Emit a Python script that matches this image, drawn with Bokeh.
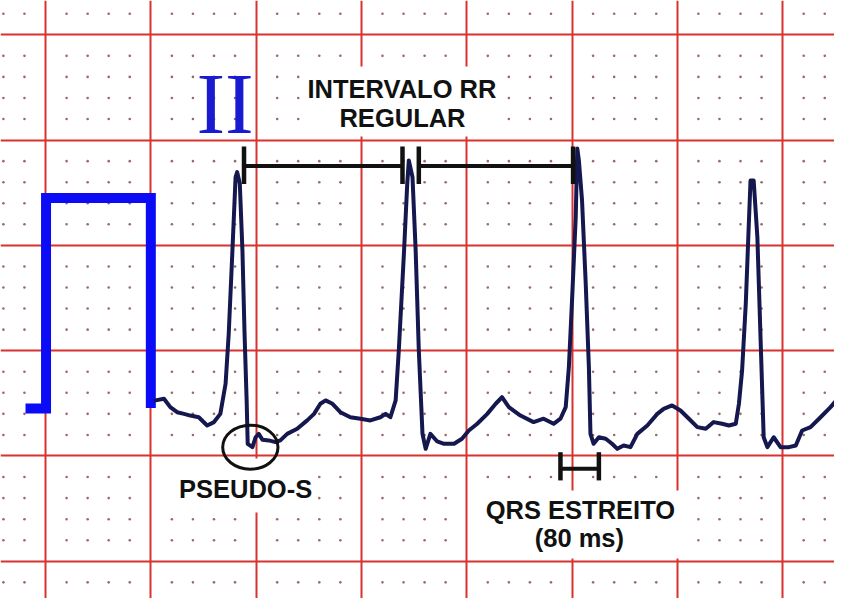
from bokeh.plotting import figure
from bokeh.models import Range1d, FixedTicker
from bokeh.embed import file_html
from bokeh.resources import INLINE
from bokeh.core.properties import value
import numpy as np

# ---- data (time in ms, voltage in mV) ----
cal_t = [-38, 1, 1, 200, 200]
cal_v = [0.225, 0.225, 1.225, 1.225, 0.228]

ecg_t = [209, 225, 237, 250, 263, 275, 291, 307, 320, 332, 342, 348, 355, 361, 364, 369, 374, 378, 382, 384,
         393, 399, 405, 412, 424, 437, 446, 459, 478, 497, 510, 522, 532, 545, 560, 579, 598, 617, 636, 646,
         655, 665, 671, 681, 687, 690, 697, 703, 709, 716, 722, 731, 744, 757, 776, 791, 804, 820, 839, 855,
         867, 880, 902, 927, 946, 965, 978, 988, 994, 1000, 1007, 1010, 1013, 1019, 1026, 1032, 1035, 1041, 1051, 1064,
         1076, 1086, 1098, 1111, 1124, 1143, 1162, 1174, 1190, 1206, 1222, 1238, 1254, 1269, 1285, 1298, 1311, 1317, 1323, 1330,
         1336, 1339, 1345, 1352, 1358, 1364, 1371, 1383, 1396, 1412, 1425, 1437, 1453, 1472, 1491, 1510, 1523, 1533]
ecg_v = [0.264, 0.272, 0.232, 0.208, 0.200, 0.192, 0.184, 0.145, 0.161, 0.200, 0.343, 0.582, 0.976, 1.324, 1.348, 1.294, 0.976, 0.582, 0.264, 0.058,
         0.042, 0.089, 0.105, 0.077, 0.074, 0.066, 0.074, 0.105, 0.129, 0.169, 0.200, 0.248, 0.264, 0.248, 0.208, 0.184, 0.177, 0.169, 0.184, 0.200,
         0.184, 0.264, 0.501, 0.976, 1.292, 1.403, 1.324, 0.976, 0.501, 0.105, 0.034, 0.105, 0.069, 0.058, 0.058, 0.082, 0.121, 0.153, 0.200, 0.248,
         0.279, 0.232, 0.192, 0.161, 0.177, 0.153, 0.177, 0.232, 0.422, 0.738, 1.134, 1.460, 1.403, 1.213, 0.819, 0.422, 0.105, 0.058, 0.089, 0.082,
         0.058, 0.034, 0.050, 0.042, 0.105, 0.145, 0.200, 0.224, 0.240, 0.216, 0.177, 0.137, 0.129, 0.161, 0.153, 0.145, 0.153, 0.248, 0.406, 0.723,
         1.118, 1.308, 1.308, 1.039, 0.564, 0.089, 0.042, 0.089, 0.042, 0.042, 0.050, 0.121, 0.137, 0.184, 0.232, 0.287, 0.279, 0.264]

# annotations
rr_t0 = [377, 709]
rr_t1 = [678, 1002]
rr_v = 1.377
rr_tick = [1.470, 1.292]
qrs_t0, qrs_t1 = 978, 1051
qrs_v = -0.061
qrs_tick = [0.018, -0.116]
pseudo_s = dict(t=389, v=0.042, w=105, h=0.209)

box_left = [488, 222, 807]
box_right = [864, 511, 1221]
box_top = [1.849, -0.012, -0.164]
box_bottom = [1.517, -0.268, -0.487]

label_t = [677, 678, 380, 1016, 1014]
label_v = [1.744, 1.606, -0.155, -0.255, -0.388]
label_text = ["INTERVALO RR", "REGULAR", "PSEUDO-S", "QRS ESTREITO", "(80 ms)"]
label_size = ["25.5px", "25.5px", "25.5px", "25.5px", "25.5px"]

lead_t, lead_v, lead_text = [341], [1.673], ["II"]

# ---- figure ----
p = figure(width=834, height=598, output_backend="svg", toolbar_location=None,
           x_range=Range1d(-85.5, 1498.5), y_range=Range1d(-0.6766, 2.1627),
           x_axis_location=None, y_axis_location=None, min_border=0)
p.outline_line_color = None
p.background_fill_color = "white"
p.border_fill_color = "white"

p.xgrid.ticker = FixedTicker(ticks=list(range(-200, 1801, 200)))
p.ygrid.ticker = FixedTicker(ticks=[-1.0, -0.5, 0.0, 0.5, 1.0, 1.5, 2.0, 2.5])
for g in (p.xgrid, p.ygrid):
    g.grid_line_color = "#d8322e"
    g.grid_line_width = 2
    g.grid_line_alpha = 1.0

# small dots
dt = np.arange(-80, 1561, 40)
dt = dt[dt % 200 != 0]
dv = np.round(np.arange(-7, 22) * 0.1, 2)
dv = dv[np.abs(dv * 2 - np.round(dv * 2)) > 1e-6]
DX, DY = np.meshgrid(dt, dv)
p.scatter(DX.ravel(), DY.ravel(), size=2.6, color="#9a6a6a", line_color=None)

# white boxes behind labels
p.quad(left=box_left, right=box_right, top=box_top, bottom=box_bottom,
       fill_color="white", line_color=None)

# calibration pulse
p.line(cal_t, cal_v, line_color="#0b0bf5", line_width=10, line_join="miter", line_cap="butt")

# ECG trace
p.line(ecg_t, ecg_v, line_color="#15174f", line_width=4, line_join="round", line_cap="round")

# RR brackets
p.segment(x0=rr_t0, y0=[rr_v] * 2, x1=rr_t1, y1=[rr_v] * 2, line_color="#111111", line_width=4)
p.segment(x0=rr_t0 + rr_t1, y0=[rr_tick[0]] * 4, x1=rr_t0 + rr_t1, y1=[rr_tick[1]] * 4,
          line_color="#111111", line_width=4.5)
# QRS bracket
p.segment(x0=[qrs_t0], y0=[qrs_v], x1=[qrs_t1], y1=[qrs_v], line_color="#111111", line_width=4)
p.segment(x0=[qrs_t0, qrs_t1], y0=[qrs_tick[0]] * 2, x1=[qrs_t0, qrs_t1], y1=[qrs_tick[1]] * 2,
          line_color="#111111", line_width=4.5)

# pseudo-S ellipse
p.ellipse(x=[pseudo_s["t"]], y=[pseudo_s["v"]], width=[pseudo_s["w"]], height=[pseudo_s["h"]],
          fill_color=None, line_color="#111111", line_width=3)

# labels
p.text(x=label_t, y=label_v, text=label_text, text_font=value("Liberation Sans"),
       text_font_style="bold", text_font_size=label_size, text_color="#111111",
       text_align="center", text_baseline="alphabetic")
p.text(x=lead_t, y=lead_v, text=lead_text, text_font=value("Liberation Serif"),
       text_font_size="86px", text_color="#1a1ad0", text_align="center", text_baseline="alphabetic")

open("out.html", "w").write(file_html(p, INLINE))
